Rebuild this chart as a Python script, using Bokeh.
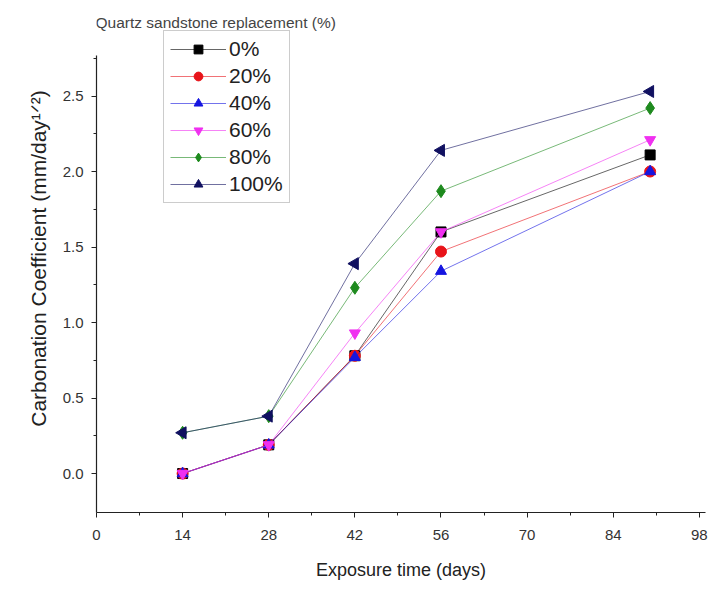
import math
from bokeh.plotting import figure
from bokeh.models import (Range1d, FixedTicker, Legend, LegendItem, Label, CustomJSTickFormatter)
from bokeh.embed import file_html
from bokeh.resources import INLINE

days = [14, 28, 42, 56, 90]
series_names = ["0%", "20%", "40%", "60%", "80%", "100%"]
s0 = [0.0, 0.19, 0.78, 1.60, 2.11]
s20 = [0.0, 0.19, 0.78, 1.47, 2.00]
s40 = [0.0, 0.19, 0.77, 1.34, 2.00]
s60 = [0.0, 0.19, 0.93, 1.60, 2.21]
s80 = [0.27, 0.38, 1.23, 1.87, 2.42]
s100 = [0.27, 0.38, 1.39, 2.14, 2.53]
series_values = [s0, s20, s40, s60, s80, s100]
x_ticks = [0, 14, 28, 42, 56, 70, 84, 98]
x_minor = [7, 21, 35, 49, 63, 77, 91]
y_ticks = [0.0, 0.5, 1.0, 1.5, 2.0, 2.5]
y_minor = [0.25, 0.75, 1.25, 1.75, 2.25, 2.75]

colors = ["#000000", "#E8141A", "#1515E0", "#F030F0", "#1E8A1E", "#101060"]
markers = ["square", "circle", "triangle", "inverted_triangle", "diamond", "triangle"]
angles = [0, 0, 0, 0, 0, math.pi / 2]
sizes = [10, 11, 11, 11, 13, 12]

FONT = "Liberation Sans"

p = figure(width=710, height=585, output_backend="svg", toolbar_location=None,
           x_range=Range1d(0, 99), y_range=Range1d(-0.258, 3.106),
           min_border_left=96, min_border_right=5, min_border_top=4, min_border_bottom=73)
p.outline_line_color = None
p.grid.visible = False

items = []
for name, vals, c, m, a, s in zip(series_names, series_values, colors, markers, angles, sizes):
    ln = p.line(days, vals, line_color=c, line_width=1, line_alpha=0.6)
    sc = p.scatter(days, vals, marker=m, angle=a, size=s, fill_color=c, line_color=c)
    items.append(LegendItem(label=name, renderers=[ln, sc]))

legend = Legend(items=items, location=(67, 309), label_text_font=FONT,
                label_text_font_size="21px", label_text_color="#222222",
                glyph_width=56, glyph_height=22, label_height=22, spacing=3,
                label_standoff=3, padding=6, margin=0, border_line_color="#999999",
                border_line_width=1, background_fill_alpha=1.0)
p.add_layout(legend, "center")

title = Label(x=0, y=2.99, x_offset=-1, text="Quartz sandstone replacement (%)",
              text_font=FONT, text_font_size="15.5px", text_color="#444444",
              text_baseline="alphabetic")
p.add_layout(title)

p.xaxis.ticker = FixedTicker(ticks=x_ticks, minor_ticks=x_minor)
p.yaxis.ticker = FixedTicker(ticks=y_ticks, minor_ticks=y_minor)
p.yaxis.formatter = CustomJSTickFormatter(code="return tick.toFixed(1);")
p.yaxis.bounds = (-0.258, 2.77)

for ax in (p.xaxis, p.yaxis):
    ax.axis_line_color = "#222222"
    ax.axis_line_width = 1.2
    ax.major_tick_line_color = "#222222"
    ax.minor_tick_line_color = "#222222"
    ax.major_tick_out = 5
    ax.major_tick_in = 0
    ax.minor_tick_out = 3
    ax.minor_tick_in = 0
    ax.major_label_text_font = FONT
    ax.major_label_text_font_size = "15px"
    ax.major_label_text_color = "#333333"
    ax.axis_label_text_font = FONT
    ax.axis_label_text_font_style = "normal"
    ax.axis_label_text_color = "#222222"

p.xaxis.axis_label = "Exposure time (days)"
p.xaxis.axis_label_text_font_size = "18px"
p.yaxis.axis_label = "Carbonation Coefficient (mm/day\u00b9\u141f\u00b2)"
p.yaxis.axis_label_text_font_size = "21px"
p.xaxis.axis_label_standoff = 17
p.yaxis.axis_label_standoff = 10
p.xaxis.major_label_standoff = 12
p.yaxis.major_label_standoff = 8

open("out.html", "w").write(file_html(p, INLINE))
